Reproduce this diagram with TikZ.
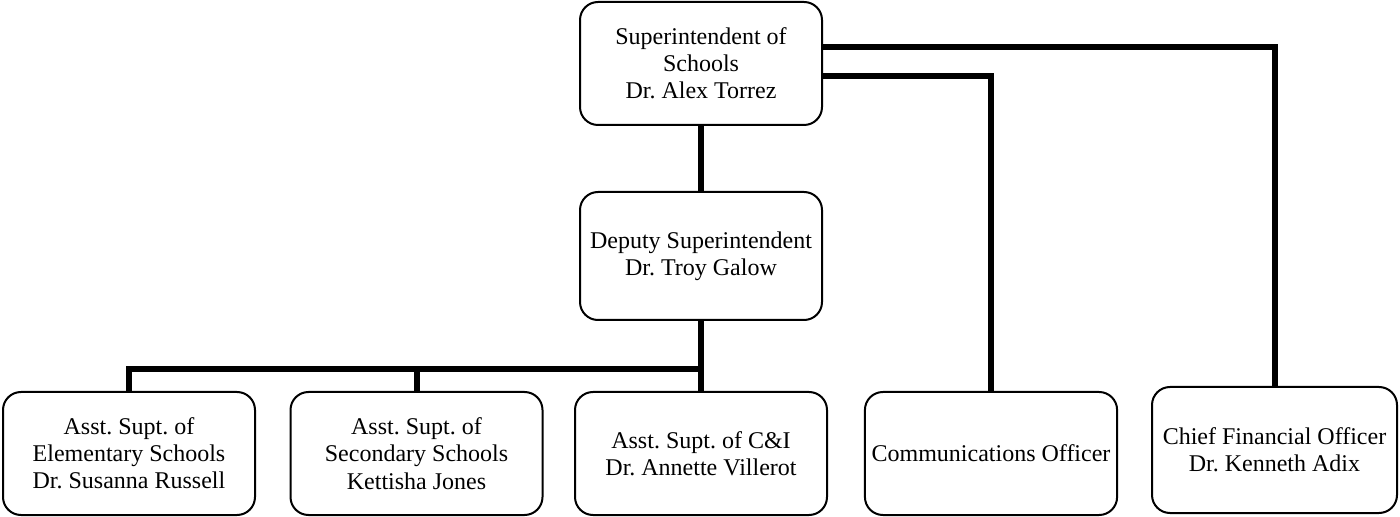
\documentclass[tikz,border=0pt]{standalone}
\usepackage{fontspec}
\setmainfont{Liberation Serif}
\frenchspacing
\usetikzlibrary{positioning,calc}
\tikzset{
  post/.style={
    rectangle, rounded corners=9pt, draw=black, line width=1pt,
    minimum width=121pt, minimum height=61.5pt,
    align=center, font=\fontsize{12}{13.6}\selectfont
  },
  wide/.style={post, minimum width=126pt},
  link/.style={line width=3pt, draw=black}
}
\begin{document}
\begin{tikzpicture}[x=0.5pt,y=-0.5pt]
  \useasboundingbox (0,0) rectangle (1400,517);

  % Top of the chart
  \node[post] (supt) at (701,63.5) {Superintendent of\\Schools\\Dr. Alex Torrez};
  \node[post, minimum height=64pt] (deputy) at (701,256) {Deputy Superintendent\\Dr. Troy Galow};

  % Bottom row
  \node[wide] (elem) at (129,453.5) {Asst. Supt. of\\Elementary Schools\\Dr. Susanna Russell};
  \node[wide] (sec) at (416.5,453.5) {Asst. Supt. of\\Secondary Schools\\Kettisha Jones};
  \node[wide] (ci) at (701,453.5) {Asst. Supt. of C\&I\\Dr. Annette Villerot};
  \node[wide] (comm) at (991,453.5) {Communications Officer};
  \node[post, minimum width=122.5pt, minimum height=63pt] (cfo) at (1274.5,450) {Chief Financial Officer\\Dr. Kenneth Adix};

  % Reporting lines
  \coordinate (hub) at ($(deputy.south)!0.69!(ci.north)$);
  \draw[link] (supt) -- (deputy);
  \draw[link] (deputy) -- (ci);
  \draw[link] (elem.north) |- (hub);
  \draw[link] (sec.north) -- (sec.north |- hub);

  % Direct reports to the superintendent
  \draw[link] ([yshift=8.25pt]supt.east) -| (cfo.north);
  \draw[link] ([yshift=-6.25pt]supt.east) -| (comm.north);

\end{tikzpicture}
\end{document}
